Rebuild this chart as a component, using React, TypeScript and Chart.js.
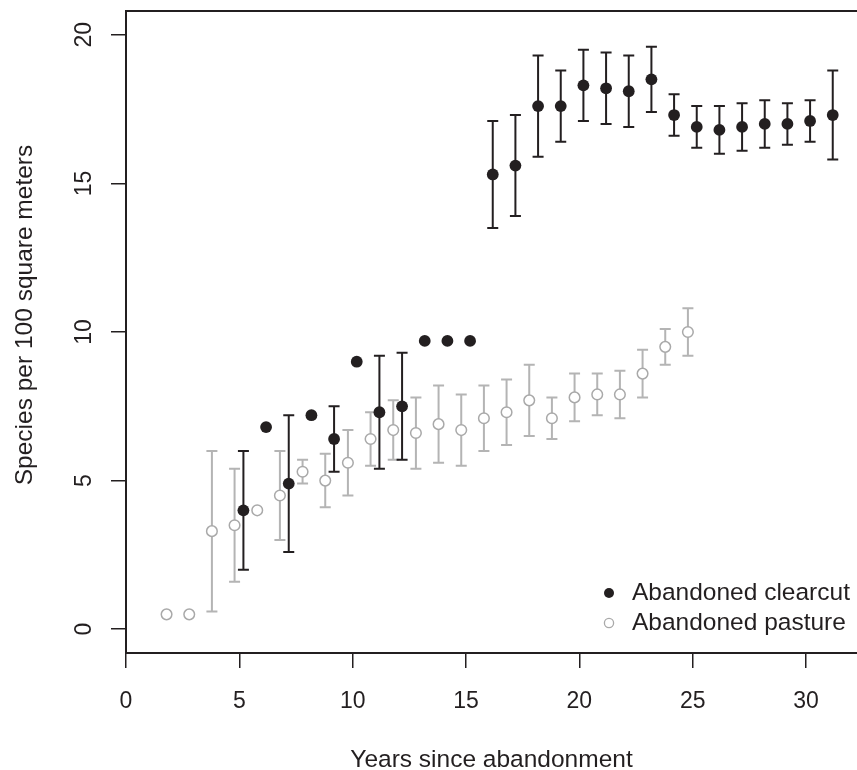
import React, { useEffect, useRef } from "react";
import { Chart, registerables } from "chart.js";

Chart.register(...registerables);

// ---- data ----
const clearcutYears = [5, 6, 7, 8, 9, 10, 11, 12, 13, 14, 15, 16, 17, 18, 19, 20, 21, 22, 23, 24, 25, 26, 27, 28, 29, 30, 31];
const clearcutMean = [4.0, 6.8, 4.9, 7.2, 6.4, 9.0, 7.3, 7.5, 9.7, 9.7, 9.7, 15.3, 15.6, 17.6, 17.6, 18.3, 18.2, 18.1, 18.5, 17.3, 16.9, 16.8, 16.9, 17.0, 17.0, 17.1, 17.3];
const clearcutLower = [2.0, null, 2.6, null, 5.3, null, 5.4, 5.7, null, null, null, 13.5, 13.9, 15.9, 16.4, 17.1, 17.0, 16.9, 17.4, 16.6, 16.2, 16.0, 16.1, 16.2, 16.3, 16.4, 15.8];
const clearcutUpper = [6.0, null, 7.2, null, 7.5, null, 9.2, 9.3, null, null, null, 17.1, 17.3, 19.3, 18.8, 19.5, 19.4, 19.3, 19.6, 18.0, 17.6, 17.6, 17.7, 17.8, 17.7, 17.8, 18.8];

const pastureYears = [2, 3, 4, 5, 6, 7, 8, 9, 10, 11, 12, 13, 14, 15, 16, 17, 18, 19, 20, 21, 22, 23, 24, 25];
const pastureMean = [0.5, 0.5, 3.3, 3.5, 4.0, 4.5, 5.3, 5.0, 5.6, 6.4, 6.7, 6.6, 6.9, 6.7, 7.1, 7.3, 7.7, 7.1, 7.8, 7.9, 7.9, 8.6, 9.5, 10.0];
const pastureLower = [null, null, 0.6, 1.6, null, 3.0, 4.9, 4.1, 4.5, 5.5, 5.7, 5.4, 5.6, 5.5, 6.0, 6.2, 6.5, 6.4, 7.0, 7.2, 7.1, 7.8, 8.9, 9.2];
const pastureUpper = [null, null, 6.0, 5.4, null, 6.0, 5.7, 5.9, 6.7, 7.3, 7.7, 7.8, 8.2, 7.9, 8.2, 8.4, 8.9, 7.8, 8.6, 8.6, 8.7, 9.4, 10.1, 10.8];

const xTickValues = [0, 5, 10, 15, 20, 25, 30];
const yTickValues = [0, 5, 10, 15, 20];

const seriesLabels = ["Abandoned clearcut", "Abandoned pasture"];
const xTitle = "Years since abandonment";
const yTitle = "Species per 100 square meters";

// ---- style ----
const FONT = '"Liberation Sans", Arial, Helvetica, sans-serif';
const INK = "#231f20";
const GRAY = "#a9a9a9";
const GRAY_BAR = "#b4b4b4";
const CLEAR_SHIFT = 0.18;
const PAST_SHIFT = -0.21;

export default function App() {
  const ref = useRef<HTMLCanvasElement>(null);

  useEffect(() => {
    const canvas = ref.current;
    if (!canvas) return;

    const clearX = clearcutYears.map((v) => v + CLEAR_SHIFT);
    const pastX = pastureYears.map((v) => v + PAST_SHIFT);

    const errorBars = {
      id: "errorBars",
      beforeDatasetsDraw(chart: any) {
        const { ctx } = chart;
        const xs = chart.scales.x;
        const ys = chart.scales.y;
        const sets = [
          { px: pastX, lo: pastureLower, hi: pastureUpper, color: GRAY_BAR },
          { px: clearX, lo: clearcutLower, hi: clearcutUpper, color: INK },
        ];
        ctx.save();
        ctx.lineWidth = 2;
        ctx.lineCap = "butt";
        for (const s of sets) {
          ctx.strokeStyle = s.color;
          for (let i = 0; i < s.px.length; i++) {
            const lo = s.lo[i];
            const hi = s.hi[i];
            if (lo == null || hi == null) continue;
            const x = xs.getPixelForValue(s.px[i]);
            const y1 = ys.getPixelForValue(hi);
            const y2 = ys.getPixelForValue(lo);
            const cap = 5.5;
            ctx.beginPath();
            ctx.moveTo(x, y1);
            ctx.lineTo(x, y2);
            ctx.moveTo(x - cap, y1);
            ctx.lineTo(x + cap, y1);
            ctx.moveTo(x - cap, y2);
            ctx.lineTo(x + cap, y2);
            ctx.stroke();
          }
        }
        ctx.restore();
      },
    };

    const decorations = {
      id: "decorations",
      afterDraw(chart: any) {
        const { ctx, chartArea } = chart;
        const xs = chart.scales.x;
        const ys = chart.scales.y;
        ctx.save();
        // top frame line
        ctx.strokeStyle = INK;
        ctx.lineWidth = 2;
        ctx.beginPath();
        ctx.moveTo(chartArea.left - 1, chartArea.top);
        ctx.lineTo(chartArea.right, chartArea.top);
        ctx.stroke();

        ctx.fillStyle = INK;
        // x tick labels
        ctx.font = `23px ${FONT}`;
        ctx.textAlign = "center";
        ctx.textBaseline = "alphabetic";
        for (const v of xTickValues) {
          ctx.fillText(String(v), xs.getPixelForValue(v), chartArea.bottom + 54.5);
        }
        // y tick labels (rotated)
        for (const v of yTickValues) {
          ctx.save();
          ctx.translate(chartArea.left - 35.5, ys.getPixelForValue(v));
          ctx.rotate(-Math.PI / 2);
          ctx.fillText(String(v), 0, 0);
          ctx.restore();
        }
        // axis titles
        ctx.font = `24.5px ${FONT}`;
        ctx.fillText(xTitle, (chartArea.left + chartArea.right) / 2, chartArea.bottom + 113.5);
        ctx.save();
        ctx.translate(chartArea.left - 94, (chartArea.top + chartArea.bottom) / 2 - 17);
        ctx.rotate(-Math.PI / 2);
        ctx.fillText(yTitle, 0, 0);
        ctx.restore();

        // legend
        const lx = chartArea.right - 248;
        const ly = chartArea.bottom - 60;
        ctx.beginPath();
        ctx.arc(lx, ly, 5, 0, Math.PI * 2);
        ctx.fillStyle = INK;
        ctx.fill();
        ctx.beginPath();
        ctx.arc(lx, ly + 30, 4.6, 0, Math.PI * 2);
        ctx.strokeStyle = GRAY;
        ctx.lineWidth = 1.3;
        ctx.stroke();
        ctx.fillStyle = INK;
        ctx.font = `24.5px ${FONT}`;
        ctx.textAlign = "left";
        ctx.textBaseline = "middle";
        ctx.fillText(seriesLabels[0], lx + 23, ly);
        ctx.fillText(seriesLabels[1], lx + 23, ly + 30);
        ctx.restore();
      },
    };

    const axisCommon = {
      type: "linear" as const,
      grid: {
        drawOnChartArea: false,
        drawTicks: true,
        tickLength: 15,
        color: INK,
        lineWidth: 1.5,
      },
      border: { display: true, color: INK, width: 2 },
      ticks: { display: false },
    };

    const chart = new Chart(canvas, {
      type: "scatter",
      data: {
        datasets: [
          {
            label: seriesLabels[0],
            data: clearX.map((x, i) => ({ x, y: clearcutMean[i] })),
            pointRadius: 5.9,
            pointBackgroundColor: INK,
            pointBorderColor: INK,
            pointBorderWidth: 0,
          },
          {
            label: seriesLabels[1],
            data: pastX.map((x, i) => ({ x, y: pastureMean[i] })),
            pointRadius: 5.3,
            pointBackgroundColor: "#ffffff",
            pointBorderColor: GRAY,
            pointBorderWidth: 1.5,
          },
        ],
      },
      options: {
        animation: false,
        responsive: false,
        maintainAspectRatio: false,
        devicePixelRatio: 1,
        events: [],
        layout: { autoPadding: false, padding: { top: 11, right: 0, bottom: 0, left: 0 } },
        plugins: {
          legend: { display: false },
          tooltip: { enabled: false },
        },
        scales: {
          x: {
            ...axisCommon,
            min: 0,
            max: 32.25,
            afterBuildTicks: (s: any) => {
              s.ticks = xTickValues.map((v) => ({ value: v }));
            },
            afterFit: (s: any) => {
              s.height = 117;
            },
          },
          y: {
            ...axisCommon,
            min: -0.8,
            max: 20.8,
            afterBuildTicks: (s: any) => {
              s.ticks = yTickValues.map((v) => ({ value: v }));
            },
            afterFit: (s: any) => {
              s.width = 126;
            },
          },
        },
      },
      plugins: [errorBars, decorations],
    });

    return () => chart.destroy();
  }, []);

  return (
    <div style={{ position: "absolute", left: 0, top: 0, width: 857, height: 770, background: "#ffffff" }}>
      <canvas ref={ref} width={857} height={770} style={{ display: "block", width: 857, height: 770 }} />
    </div>
  );
}
